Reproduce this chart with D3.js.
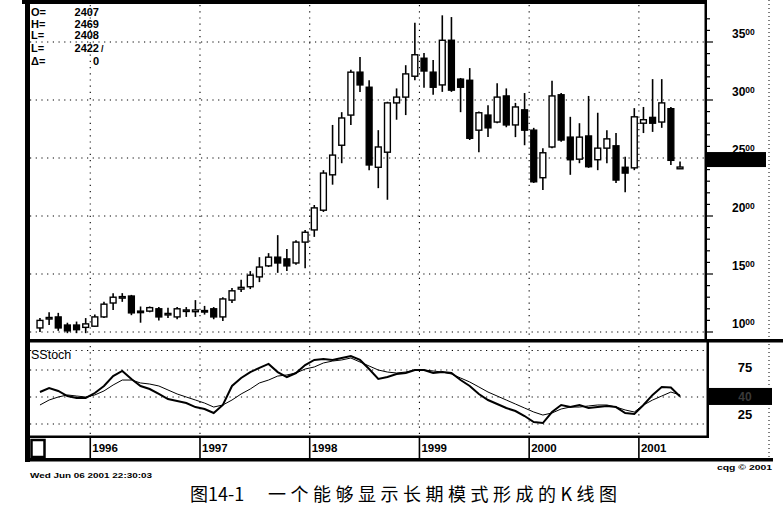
<!DOCTYPE html>
<html><head><meta charset="utf-8">
<script src="https://cdn.jsdelivr.net/npm/d3@7"></script>
<style>body{margin:0;background:#fff}</style>
</head><body><svg id="c" width="783" height="510"></svg>
<script>
const months = ["1995-07","1995-08","1995-09","1995-10","1995-11","1995-12",
"1996-01","1996-02","1996-03","1996-04","1996-05","1996-06","1996-07","1996-08","1996-09","1996-10","1996-11","1996-12",
"1997-01","1997-02","1997-03","1997-04","1997-05","1997-06","1997-07","1997-08","1997-09","1997-10","1997-11","1997-12",
"1998-01","1998-02","1998-03","1998-04","1998-05","1998-06","1998-07","1998-08","1998-09","1998-10","1998-11","1998-12",
"1999-01","1999-02","1999-03","1999-04","1999-05","1999-06","1999-07","1999-08","1999-09","1999-10","1999-11","1999-12",
"2000-01","2000-02","2000-03","2000-04","2000-05","2000-06","2000-07","2000-08","2000-09","2000-10","2000-11","2000-12",
"2001-01","2001-02","2001-03","2001-04","2001-05"];
const opens  = [1035,1115,1130,1060,1060,1040,1050,1130,1250,1295,1310,1180,1180,1200,1150,1130,1180,1175,1185,1200,1130,1275,1370,1390,1475,1570,1645,1630,1595,1775,1880,2050,2355,2610,2870,3240,3110,2420,2550,2975,3025,3205,3360,3240,3130,3515,3180,3170,2740,2870,2810,3035,2785,2915,2740,2330,2595,3045,2680,2490,2690,2485,2585,2605,2420,2415,2800,2850,2810,2925,2407];
const highs  = [1120,1170,1165,1080,1090,1120,1150,1260,1335,1335,1320,1220,1220,1215,1210,1215,1215,1275,1225,1215,1300,1380,1450,1525,1645,1680,1835,1715,1790,1880,2095,2395,2785,2895,3260,3370,3170,2740,2985,3100,3300,3665,3405,3345,3730,3715,3190,3275,2900,2955,3145,3100,2975,3060,2760,2585,3165,3060,2855,2800,3035,2890,2740,2715,2510,2930,2940,3180,3180,2940,2469];
const lows   = [1000,1060,1010,990,990,990,1045,1120,1190,1260,1145,1080,1170,1100,1120,1110,1130,1130,1150,1110,1095,1250,1345,1370,1430,1560,1510,1525,1580,1550,1820,2035,2270,2455,2785,3070,2395,2240,2140,2830,2870,3170,3105,3045,3070,3070,2895,2655,2550,2680,2800,2765,2680,2610,2285,2225,2585,2640,2355,2455,2415,2395,2455,2285,2205,2395,2715,2725,2760,2440,2405];
const closes = [1100,1125,1035,1010,1020,1070,1130,1240,1300,1305,1165,1170,1210,1130,1160,1200,1190,1190,1175,1130,1285,1355,1385,1490,1560,1645,1595,1570,1775,1860,2070,2370,2525,2845,3240,3130,2440,2595,2975,3025,3225,3390,3250,3110,3515,3085,3110,2670,2890,2760,3025,2785,2940,2740,2295,2545,3035,2655,2485,2680,2425,2585,2665,2310,2370,2855,2830,2800,2975,2480,2422];
const stochK = [54.6,58.3,55.6,50.9,49.1,49.1,53.7,60.2,69.4,74.1,66.7,60.2,57.4,52.8,48.1,46.3,44.4,40.7,38.9,35.2,42.6,60.2,67.6,73.1,76.9,80.6,73.1,68.5,72.2,79.6,84.3,85.2,84.3,86.1,88.0,84.3,75.9,66.7,68.5,71.3,72.2,75,75,72.2,73.1,72.2,65.7,60.2,52.8,47.2,43.5,39.8,37,32.4,26.8,25.9,36.1,42.6,40.7,42.6,39.8,40.7,41.7,40.7,35.2,34.3,42.6,51.9,59.3,58.8,50.5];
const stochD = [42.6,47.2,50,51.9,50.9,50,51.9,55.6,61.1,65.7,65.7,63,62,60.2,56.5,52.8,50,47.2,44.4,40.7,42.6,47.2,52.8,57.4,63,65.7,69.4,70.4,72.2,75.9,77.8,81.5,83.3,84.3,86.1,82.4,78.7,75,73.1,72.2,73.1,75,75,74.1,73.1,71.3,67.6,63.9,59.3,54.6,50.9,47.2,43.5,39.8,36.1,33.3,35.2,38.9,40.7,40.7,41.7,42.6,42.6,40.7,38,36.1,42.6,47.2,50.9,54.6,51.9];
const priceTicks = [1000,1500,2000,2500,3000,3500];
const stochTicks = [25,75];
const stochGrid = [93,75,50,25];
const yearLabels = ["1996","1997","1998","1999","2000","2001"];
const yearStarts = ["1996-01","1997-01","1998-01","1999-01","2000-01","2001-01"];
const infoLabels = ["O=","H=","L=","L=","\u0394="];
const infoValues = ["2407","2469","2408","2422","0"];
const stochBoxLabel = "40";

const svg = d3.select("#c");
svg.append("rect").attr("width",783).attr("height",510).attr("fill","#fff");
const F = "'Liberation Sans', Arial, sans-serif";

const x = d3.scaleBand().domain(months).range([35.4, 684.6]).paddingInner(0.36).paddingOuter(0.18);
const step = x.step();
const cx = m => x(m) + x.bandwidth()/2;
const yearX = m => x(m) - step*0.18;
const y = d3.scaleLinear().domain([1000,3500]).range([332,42]);
const ys = d3.scaleLinear().domain([25,75]).range([424,370]);
const ysLabel = d3.scaleLinear().domain([25,75]).range([419,372]);

const dot = "1.2,4.5";
svg.append("g").selectAll("line").data(priceTicks).join("line")
  .attr("x1",30).attr("x2",705).attr("y1",d=>y(d)).attr("y2",d=>y(d))
  .attr("stroke","#000").attr("stroke-width",1.1).attr("stroke-dasharray",dot);
svg.append("g").selectAll("line").data(stochGrid).join("line")
  .attr("x1",30).attr("x2",707).attr("y1",d=>ys(d)).attr("y2",d=>ys(d))
  .attr("stroke","#000").attr("stroke-width",1.1).attr("stroke-dasharray",dot);
svg.append("g").selectAll("line").data(yearStarts).join("line")
  .attr("x1",d=>yearX(d)).attr("x2",d=>yearX(d)).attr("y1",5).attr("y2",436)
  .attr("stroke","#000").attr("stroke-width",1.1).attr("stroke-dasharray","1.2,5");

// candles
const idx = d3.range(months.length);
const cg = svg.append("g");
cg.selectAll("line").data(idx).join("line")
  .attr("x1",i=>cx(months[i])).attr("x2",i=>cx(months[i]))
  .attr("y1",i=>y(highs[i])).attr("y2",i=>y(lows[i]))
  .attr("stroke","#000").attr("stroke-width",1.6);
cg.selectAll("rect").data(idx).join("rect")
  .attr("x",i=>x(months[i])).attr("width",x.bandwidth())
  .attr("y",i=>y(Math.max(opens[i],closes[i])))
  .attr("height",i=>Math.max(1.5, Math.abs(y(opens[i])-y(closes[i]))))
  .attr("fill",i=>closes[i]>=opens[i]?"#fff":"#000")
  .attr("stroke","#000").attr("stroke-width",1.4);

// stochastic lines
const line = d3.line().x((d,i)=>cx(months[i])).y(d=>ys(d));
svg.append("path").datum(stochD).attr("d",line).attr("fill","none").attr("stroke","#000").attr("stroke-width",1);
svg.append("path").datum(stochK).attr("d",line).attr("fill","none").attr("stroke","#000").attr("stroke-width",2);

// frames
svg.append("rect").attr("x",22).attr("y",0).attr("width",684).attr("height",4).attr("fill","#000");
svg.append("rect").attr("x",25).attr("y",0).attr("width",5).attr("height",462).attr("fill","#000");
svg.append("rect").attr("x",704.5).attr("y",0).attr("width",2.5).attr("height",341).attr("fill","#000");
svg.append("rect").attr("x",25).attr("y",339).attr("width",758).attr("height",3.5).attr("fill","#000");
svg.append("rect").attr("x",706.5).attr("y",341).attr("width",2.5).attr("height",96).attr("fill","#000");
svg.append("rect").attr("x",25).attr("y",435.5).attr("width",684).attr("height",2.5).attr("fill","#000");
svg.append("rect").attr("x",25).attr("y",458).attr("width",748).attr("height",3.5).attr("fill","#000");
svg.append("line").attr("x1",769).attr("x2",769).attr("y1",0).attr("y2",458)
  .attr("stroke","#000").attr("stroke-width",1).attr("stroke-dasharray","1,3");

// right price axis ticks
const minor = d3.range(800,3800,100).filter(d=>y(d)>4 && y(d)<339);
svg.append("g").selectAll("line").data(minor).join("line")
  .attr("x1",706).attr("x2",d=>d%500===0?713:710).attr("y1",d=>y(d)).attr("y2",d=>y(d))
  .attr("stroke","#000").attr("stroke-width",1.2);
const pl = svg.append("g").selectAll("text").data(priceTicks).join("text")
  .attr("x",732).attr("y",d=>y(d)-4).attr("font-family",F).attr("font-size",12).attr("font-weight","bold").attr("fill","#000");
pl.append("tspan").text(d=>String(d).slice(0,-2));
pl.append("tspan").attr("font-size",8.5).attr("dy",-3).text(d=>String(d).slice(-2));
const last = closes[closes.length-1];
svg.append("rect").attr("x",706).attr("y",y(last)-15).attr("width",60).attr("height",15).attr("fill","#000");

// stoch labels
svg.append("g").selectAll("text").data(stochTicks).join("text")
  .attr("x",745).attr("y",d=>ysLabel(d)).attr("text-anchor","middle")
  .attr("font-family",F).attr("font-size",13).attr("font-weight","bold").text(d=>d);
const lk = stochK[stochK.length-1];
svg.append("rect").attr("x",708).attr("y",ys(lk)-8.5).attr("width",64).attr("height",17).attr("fill","#000");
svg.append("text").attr("x",745).attr("y",ys(lk)+4.5).attr("text-anchor","middle")
  .attr("font-family",F).attr("font-size",12).attr("font-weight","bold").attr("fill","#3a3a3a").text(stochBoxLabel);
svg.append("text").attr("x",31).attr("y",359).attr("font-family",F).attr("font-size",12.5).text("SStoch");

// date strip
svg.append("g").selectAll("line").data(yearStarts).join("line")
  .attr("x1",d=>yearX(d)).attr("x2",d=>yearX(d)).attr("y1",437).attr("y2",458)
  .attr("stroke","#000").attr("stroke-width",1.6);
svg.append("g").selectAll("text").data(yearLabels).join("text")
  .attr("x",(d,i)=>yearX(yearStarts[i])+2).attr("y",452)
  .attr("font-family",F).attr("font-size",11.5).attr("font-weight","bold").text(d=>d);
svg.append("rect").attr("x",31.5).attr("y",440).attr("width",13).attr("height",17)
  .attr("fill","#fff").attr("stroke","#000").attr("stroke-width",2.5);

// info box
const ig = svg.append("g").attr("font-family",F).attr("font-size",11).attr("font-weight","bold");
const rowsY = [16,28,39,52,65];
ig.selectAll("text.l").data(infoLabels).join("text").attr("class","l")
  .attr("x",31).attr("y",(d,i)=>rowsY[i]).text(d=>d);
ig.selectAll("text.v").data(infoValues).join("text").attr("class","v")
  .attr("x",99).attr("y",(d,i)=>rowsY[i]).attr("text-anchor","end").text(d=>d);
ig.append("text").attr("x",101).attr("y",rowsY[3]).attr("font-size",9).text("/");

// footer texts
svg.append("text").attr("x",30).attr("y",478).attr("font-family",F).attr("font-size",8).attr("font-weight","bold")
  .attr("textLength",122).attr("lengthAdjust","spacingAndGlyphs").text("Wed Jun 06 2001 22:30:03");
svg.append("text").attr("x",717).attr("y",470).attr("font-family",F).attr("font-size",8).attr("font-weight","bold")
  .attr("textLength",55).attr("lengthAdjust","spacingAndGlyphs").text("cqg \u00a9 2001");

// caption
const CJ = "'Noto Sans CJK SC', sans-serif";
svg.append("text").attr("x",190).attr("y",501).attr("font-family",CJ).attr("font-size",18).text("图14-1");
svg.append("text").attr("x",268).attr("y",501).attr("font-family",CJ).attr("font-size",18)
  .attr("textLength",349).attr("lengthAdjust","spacing").text("一个能够显示长期模式形成的K线图");
</script></body></html>
